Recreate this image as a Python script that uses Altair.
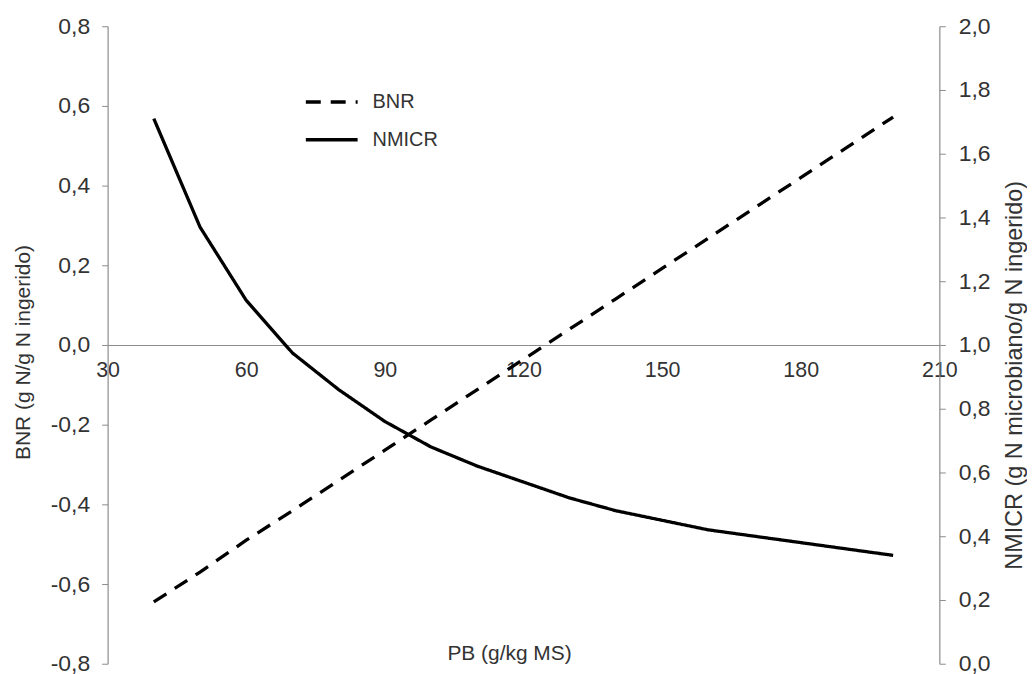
import altair as alt
import pandas as pd

# PB (g/kg MS)
pb = [40, 50, 60, 70, 80, 90, 100, 110, 120, 130, 140, 150, 160, 170, 180, 190, 200]
# BNR (g N/g N ingerido) - left axis
bnr = [-0.645, -0.57, -0.49, -0.416, -0.34, -0.264, -0.188, -0.112, -0.036,
       0.04, 0.116, 0.192, 0.268, 0.344, 0.42, 0.496, 0.572]
# NMICR (g N microbiano/g N ingerido) - right axis
nmicr = [1.71, 1.37, 1.14, 0.975, 0.86, 0.76, 0.68, 0.62, 0.57,
         0.52, 0.48, 0.45, 0.42, 0.40, 0.38, 0.36, 0.34]

x_ticks = [30, 60, 90, 120, 150, 180, 210]
left_ticks = [-0.8, -0.6, -0.4, -0.2, 0.0, 0.2, 0.4, 0.6, 0.8]
right_ticks = [0.0, 0.2, 0.4, 0.6, 0.8, 1.0, 1.2, 1.4, 1.6, 1.8, 2.0]
series = ["BNR", "NMICR"]

df_bnr = pd.DataFrame({"PB": pb, "valor": bnr, "serie": series[0]})
df_nm = pd.DataFrame({"PB": pb, "valor": nmicr, "serie": series[1]})

FONT = "Liberation Sans"
AXIS_GREY = "#8c8c8c"
TEXT = "#333333"
label_expr = "replace(replace(format(datum.value, '.1f'), '.', ','), '\u2212', '-')"

x_enc = alt.X(
    "PB:Q",
    scale=alt.Scale(domain=[30, 210], nice=False, zero=False),
    axis=alt.Axis(
        values=x_ticks, grid=False, offset=-320, tickSize=0,
        domainColor=AXIS_GREY, domainWidth=1.2,
        labelFontSize=21.5, labelFont=FONT, labelColor=TEXT, labelPadding=15,
        labelFlush=False, labelOverlap=False,
        title="PB (g/kg MS)", titleFontSize=21, titleFont=FONT, titleColor=TEXT,
        titleFontWeight="normal", titleX=403, titleY=310, titleBaseline="middle",
        titleAlign="center",
    ),
)

stroke_dash = alt.StrokeDash(
    "serie:N",
    scale=alt.Scale(domain=series, range=[[15, 10], [1, 0]]),
    legend=alt.Legend(
        title=None, orient="none", legendX=197, legendY=48,
        symbolType="stroke", symbolSize=2704, symbolStrokeWidth=3.5,
        symbolStrokeColor="black", labelFontSize=20, labelFont=FONT,
        labelColor=TEXT, labelOffset=13, rowPadding=0, padding=0,
    ),
)

bnr_line = alt.Chart(df_bnr).mark_line(color="black", strokeWidth=3.3).encode(
    x=x_enc,
    y=alt.Y(
        "valor:Q",
        scale=alt.Scale(domain=[-0.8, 0.8], nice=False, zero=False),
        axis=alt.Axis(
            orient="left", values=left_ticks, grid=False, tickSize=6,
            tickColor=AXIS_GREY, domainColor=AXIS_GREY, domainWidth=1.2,
            labelExpr=label_expr, labelFontSize=23, labelFont=FONT,
            labelColor=TEXT, labelPadding=12, labelFlush=False, labelOverlap=False,
            title="BNR (g N/g N ingerido)", titleFontSize=21, titleFont=FONT,
            titleColor=TEXT, titleFontWeight="normal", titleAngle=270,
            titleX=-84, titleY=327, titleBaseline="middle", titleAlign="center",
        ),
    ),
    strokeDash=stroke_dash,
)

nm_line = alt.Chart(df_nm).mark_line(color="black", strokeWidth=3.3).encode(
    x=x_enc,
    y=alt.Y(
        "valor:Q",
        scale=alt.Scale(domain=[0, 2.0], nice=False),
        axis=alt.Axis(
            orient="right", values=right_ticks, grid=False, tickSize=6,
            tickColor=AXIS_GREY, domainColor=AXIS_GREY, domainWidth=1.2,
            labelExpr=label_expr, labelFontSize=23, labelFont=FONT,
            labelColor=TEXT, labelPadding=13, labelFlush=False, labelOverlap=False,
            title="NMICR (g N microbiano/g N ingerido)", titleFontSize=23.5,
            titleFont=FONT, titleColor=TEXT, titleFontWeight="normal",
            titleAngle=270, titleX=75, titleY=350, titleBaseline="middle",
            titleAlign="center",
        ),
    ),
    strokeDash=stroke_dash,
)

chart = (
    alt.layer(bnr_line, nm_line)
    .resolve_scale(y="independent")
    .properties(
        width=835, height=640,
        padding={"left": 100, "top": 17, "right": 88, "bottom": 9},
        autosize=alt.AutoSizeParams(type="none"),
        background="white",
    )
    .configure_view(stroke=None)
)

chart.save("out.html", embed_options={"renderer": "svg", "actions": False})
